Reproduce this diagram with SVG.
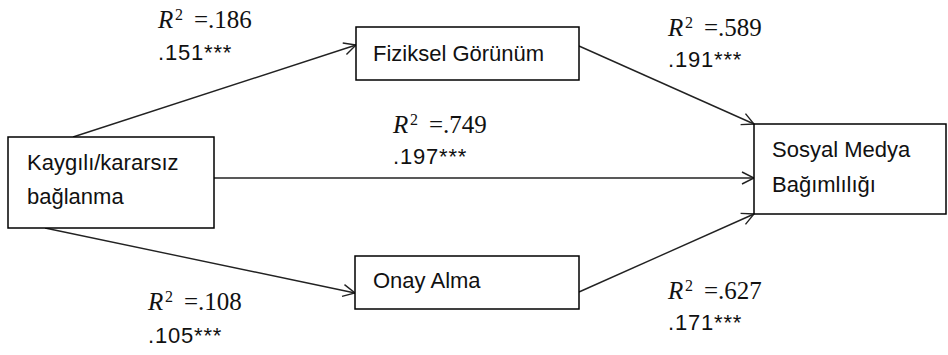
<svg xmlns="http://www.w3.org/2000/svg" width="948" height="355" viewBox="0 0 948 355">
<style>
.box{fill:#fff;stroke:#000;stroke-width:1.5}
.lbl{font-family:"Liberation Sans",Arial,sans-serif;font-size:22px;fill:#111}
.math{font-family:"Liberation Serif","Times New Roman",serif;font-size:25px;fill:#111}
.it{font-style:italic}
.sup{font-size:16px}
.coef{font-family:"Liberation Sans",Arial,sans-serif;font-size:22px;fill:#111;letter-spacing:0.8px}
.edge{stroke:#222;stroke-width:1.4;fill:none;marker-end:url(#arr)}
</style>
<defs>
<marker id="arr" markerUnits="userSpaceOnUse" markerWidth="16" markerHeight="16" refX="13" refY="7" orient="auto">
<path d="M1,1 L13,7 L1,13" fill="none" stroke="#222" stroke-width="1.4"/>
</marker>
</defs>
<rect width="948" height="355" fill="#fff"/>
<g id="connectors">
<line class="edge" x1="73" y1="137" x2="356" y2="45"/>
<line class="edge" x1="579" y1="46" x2="754" y2="124"/>
<line class="edge" x1="214" y1="178" x2="754" y2="178"/>
<line class="edge" x1="45" y1="228" x2="355" y2="293"/>
<line class="edge" x1="579" y1="292" x2="754" y2="214"/>
</g>
<g id="node-kaygili">
<rect class="box" x="8" y="137" width="206" height="91"/>
<text class="lbl" x="27" y="170">Kaygılı/kararsız</text>
<text class="lbl" x="27" y="204">bağlanma</text>
</g>
<g id="node-fiziksel">
<rect class="box" x="356" y="27" width="223" height="53"/>
<text class="lbl" x="373" y="61">Fiziksel Görünüm</text>
</g>
<g id="node-onay">
<rect class="box" x="355" y="256" width="224" height="53"/>
<text class="lbl" x="373" y="288">Onay Alma</text>
</g>
<g id="node-sosyal">
<rect class="box" x="754" y="124" width="192" height="90"/>
<text class="lbl" x="772" y="157">Sosyal Medya</text>
<text class="lbl" x="772" y="192">Bağımlılığı</text>
</g>
<g id="labels">
<text class="math" x="158" y="28"><tspan class="it">R</tspan><tspan class="sup" x="175" y="20">2</tspan><tspan x="194" y="28">=.186</tspan></text>
<text class="coef" x="158" y="60">.151***</text>
<text class="math" x="668" y="36"><tspan class="it">R</tspan><tspan class="sup" x="685" y="28">2</tspan><tspan x="704" y="36">=.589</tspan></text>
<text class="coef" x="668" y="67">.191***</text>
<text class="math" x="393" y="133"><tspan class="it">R</tspan><tspan class="sup" x="410" y="125">2</tspan><tspan x="429" y="133">=.749</tspan></text>
<text class="coef" x="393" y="164">.197***</text>
<text class="math" x="148" y="310"><tspan class="it">R</tspan><tspan class="sup" x="165" y="302">2</tspan><tspan x="184" y="310">=.108</tspan></text>
<text class="coef" x="148" y="343">.105***</text>
<text class="math" x="668" y="299"><tspan class="it">R</tspan><tspan class="sup" x="685" y="291">2</tspan><tspan x="704" y="299">=.627</tspan></text>
<text class="coef" x="668" y="330">.171***</text>
</g>
</svg>
